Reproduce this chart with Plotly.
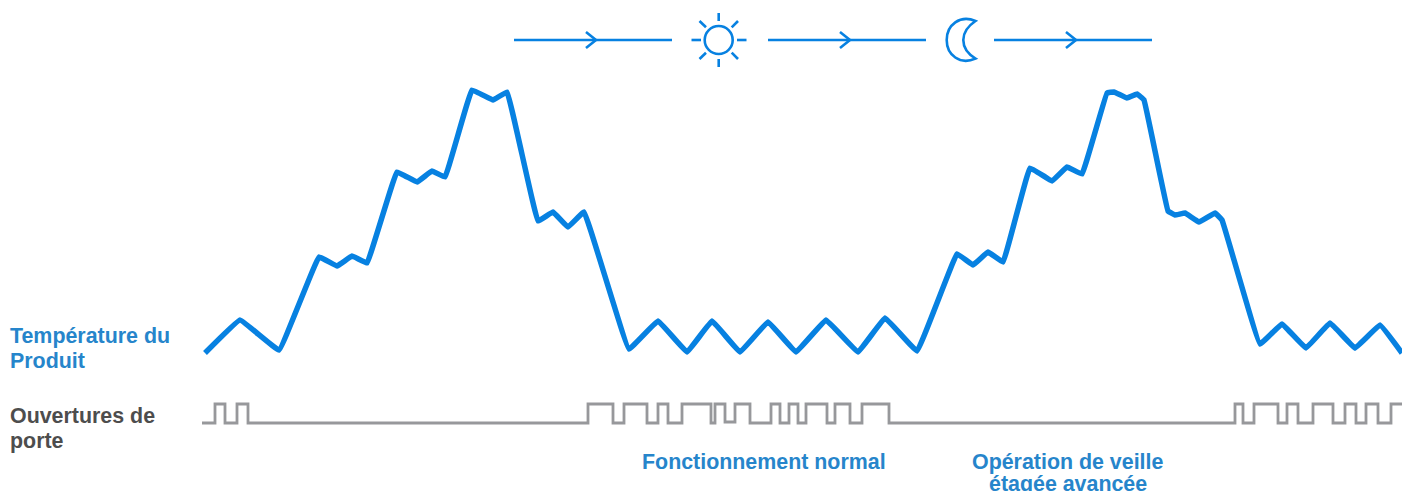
import plotly.graph_objects as go

# Product temperature curve (x = time position, y = level on a downward scale)
temp_x = [205, 240, 279, 319, 337, 352, 367, 397, 417, 432, 445, 472, 493, 507, 538, 553, 568, 584,
          629, 658, 687, 712, 740, 768, 796, 826, 858, 885, 917, 957, 973, 988, 1003, 1030, 1052,
          1067, 1082, 1107, 1114, 1127, 1137, 1144, 1168, 1175, 1185, 1199, 1215, 1222, 1260, 1282, 1306, 1330, 1355, 1380, 1402]
temp_y = [353, 320, 350, 257, 266, 256, 263, 172, 182, 171, 177, 90, 100, 92, 221, 212, 227, 212,
          349, 321, 352, 321, 352, 322, 352, 320, 352, 318, 351, 254, 265, 252, 262, 168, 181,
          167, 174, 93, 92, 98, 94, 100, 211, 215, 213, 222, 213, 220, 344, 324, 348, 323, 348, 325, 353]

# Door openings: step series (value holds until the next x)
door_x = [202, 215, 225, 237, 248, 588, 613, 624, 647, 658, 668, 682, 711, 715, 725, 735, 750, 771, 780,
          789, 798, 806, 827, 835, 850, 862, 889, 1235, 1243, 1254, 1278, 1287, 1298, 1313, 1333, 1345,
          1356, 1366, 1378, 1391, 1402]
door_y = [423, 404, 423, 404, 423, 404, 423, 404, 423, 404, 423, 404, 423, 404, 422, 404, 423, 404, 423,
          404, 423, 404, 423, 404, 423, 404, 423, 404, 423, 404, 423, 404, 423, 404, 423, 404,
          423, 404, 423, 404, 404]

# Labels
label_text = ["Température du", "Produit", "Ouvertures de", "porte",
              "Fonctionnement normal", "Opération de veille", "étagée avancée"]
label_x = [8, 8, 8, 8, 763.5, 1067.5, 1067.5]
label_y = [336, 361, 416, 441, 462, 462, 484]
label_anchor = ["left", "left", "left", "left", "center", "center", "center"]
label_color = ["#2685CB", "#2685CB", "#4D4D4D", "#4D4D4D", "#2685CB", "#2685CB", "#2685CB"]

# Time arrows across the top
arrow_start = [514, 768, 994]
arrow_end = [672, 926, 1152]
arrow_tip = [596, 850, 1076]
arrow_level = 40

# Sun and moon icons
sun_cx, sun_cy, sun_r = 718.7, 40, 14
sun_rays = [(718.7, 13, 718.7, 21), (718.7, 59, 718.7, 67), (691.5, 40, 701, 40), (737, 40, 746.5, 40),
            (699.5, 21, 706, 27.3), (738, 21, 731.7, 27.3), (699.5, 59, 706, 52.7), (738, 59, 731.7, 52.7)]
moon_path = ("M 975.5 21 C 960 14.5 946.7 25 946.7 40 C 946.7 55 960 65.5 975.5 58.5 "
             "C 968 54 963.3 48 963.3 40 C 963.3 32 968 26 975.5 21 Z")

BLUE = "#0781E1"
GREY = "#97989B"

fig = go.Figure()
fig.add_trace(go.Scatter(x=door_x, y=door_y, mode="lines",
                         line=dict(color=GREY, width=2.8, shape="hv"), hoverinfo="skip"))
fig.add_trace(go.Scatter(x=temp_x, y=temp_y, mode="lines",
                         line=dict(color=BLUE, width=5.5, shape="spline", smoothing=0.18), hoverinfo="skip"))

icon_line = dict(color=BLUE, width=2.6)
shapes = []
for s, e, t in zip(arrow_start, arrow_end, arrow_tip):
    shapes.append(dict(type="line", x0=s, x1=e, y0=arrow_level, y1=arrow_level, line=icon_line))
    shapes.append(dict(type="path", path=f"M {t-10} {arrow_level-8} L {t} {arrow_level} L {t-10} {arrow_level+8}",
                       line=icon_line))
shapes.append(dict(type="circle", x0=sun_cx - sun_r, x1=sun_cx + sun_r,
                   y0=sun_cy - sun_r, y1=sun_cy + sun_r, line=icon_line))
for x0, y0, x1, y1 in sun_rays:
    shapes.append(dict(type="line", x0=x0, y0=y0, x1=x1, y1=y1, line=icon_line))
shapes.append(dict(type="path", path=moon_path, line=icon_line))

annotations = [dict(text=t, x=x, y=y, xref="x", yref="y", xanchor=a, yanchor="middle", showarrow=False,
                    font=dict(family="Liberation Sans", size=21.4, color=c, weight="bold"))
               for t, x, y, a, c in zip(label_text, label_x, label_y, label_anchor, label_color)]

fig.update_layout(
    width=1402, height=491, margin=dict(l=0, r=0, t=0, b=0),
    paper_bgcolor="white", plot_bgcolor="white", showlegend=False,
    xaxis=dict(range=[0, 1402], visible=False, fixedrange=True),
    yaxis=dict(range=[491, 0], visible=False, fixedrange=True),
    shapes=shapes, annotations=annotations,
)
fig.write_html("out.html", config={"displayModeBar": False},
               post_script="document.body.style.margin='0';document.body.style.overflow='hidden';")
